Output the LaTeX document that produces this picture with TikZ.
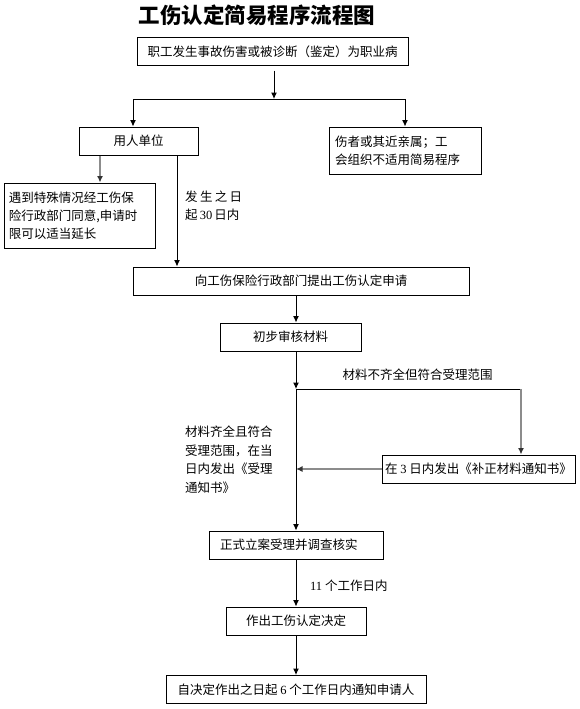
\documentclass[tikz,border=0pt]{standalone}
\usepackage{fontspec}
\setmainfont{Noto Sans CJK SC}
\newfontfamily\digits{Liberation Serif}
\usetikzlibrary{shapes,arrows.meta}
\tikzstyle{block} = [rectangle, draw, line width=1pt, text centered,
    minimum height=28pt, inner sep=3pt, font=\fontsize{12.5}{18}\selectfont]
\tikzstyle{note} = [inner sep=0pt, align=left, font=\fontsize{12.5}{18.5}\selectfont]
\tikzstyle{line} = [draw, line width=1pt, -{Latex[length=6.5pt,width=6pt]}]
\tikzstyle{grayline} = [draw, line width=1.3pt, color=gray!90, -{Latex[length=6.5pt,width=6pt,color=black!80]}]

\begin{document}
\begin{tikzpicture}[x=1pt, y=-1pt]
		\useasboundingbox (0,0) rectangle (579,709);
		\node [font=\fontsize{21.5}{24}\selectfont\bfseries] (title) at (257,15) {工伤认定简易程序流程图};
		\node [block, minimum width=271pt] (start) at (272.5,52) {职工发生事故伤害或被诊断（鉴定）为职业病};
		\node [block, minimum width=119pt] (unit) at (138.5,141) {用人单位};
		\node [block, minimum width=152pt, minimum height=47pt, text width=140pt, align=left] (kin) at (405,150.5) {伤者或其近亲属；工\\会组织不适用简易程序};
		\node [block, minimum width=151pt, minimum height=65pt, text width=141pt, align=left] (extend) at (79.5,215.5) {遇到特殊情况经工伤保\\险行政部门同意,申请时\\限可以适当延长};
		\node [block, minimum width=336pt] (apply) at (301,281) {向工伤保险行政部门提出工伤认定申请};
		\node [block, minimum width=141pt] (check) at (290.5,337) {初步审核材料};
		\node [block, minimum width=193pt] (notice) at (478.5,469) {在 {\digits 3} 日内发出《补正材料通知书》};
		\node [block, minimum width=174pt, text width=164pt, align=left] (accept) at (296,545) {\hspace{6pt}正式立案受理并调查核实};
		\node [block, minimum width=140pt] (decide) at (296,621) {作出工伤认定决定};
		\node [block, minimum width=260pt] (inform) at (296,689.5) {自决定作出之日起 {\digits 6} 个工作日内通知申请人};
		
		% labels on the connectors
		\node [note, anchor=west] (days30) at (185,206) {发\hspace{2.3pt}生\hspace{2.3pt}之\hspace{2.3pt}日\\起\,{\digits 30}\,日内};
		\node [note] (partial) at (417.5,375) {材料不齐全但符合受理范围};
		\node [note, anchor=west] (full) at (185,459.5) {材料齐全且符合\\受理范围，在当\\日内发出《受理\\通知书》};
		\node [note, anchor=west] (days11) at (310,586) {{\digits 11} 个工作日内};
		
		\coordinate (fork) at (274,99);
		\coordinate (forkL) at (133,99);
		\coordinate (forkR) at (405,99);
		\coordinate (spine) at (296,0);
		\coordinate (split) at (296,389);
		\coordinate (splitR) at (521,389);
		
		\path [line] ([yshift=-4pt]start.south -| fork) -- (fork);
		\draw [line width=1pt] (forkL) -- (forkR);
		\path [line] (forkL) -- (forkL |- unit.north);
		\path [line] (forkR) -- (kin.north);
		\path [grayline] ([xshift=-38.5pt]unit.south) -- ([xshift=-38.5pt]unit.south |- extend.north);
		\path [line] ([xshift=38.5pt]unit.south) -- ([xshift=38.5pt]unit.south |- apply.north);
		\path [line] (apply.south -| spine) -- (check.north -| spine);
		\path [line] (check.south -| spine) -- (split);
		\draw [line width=1pt] (split) -- (splitR);
		\path [grayline] (splitR) -- (splitR |- notice.north);
		\path [grayline] (notice.west) -- (notice.west -| spine);
		\path [line] (split) -- (accept.north);
		\path [line] (accept.south) -- (decide.north);
		\path [line] (decide.south) -- (inform.north);
	\end{tikzpicture}
\end{document}
